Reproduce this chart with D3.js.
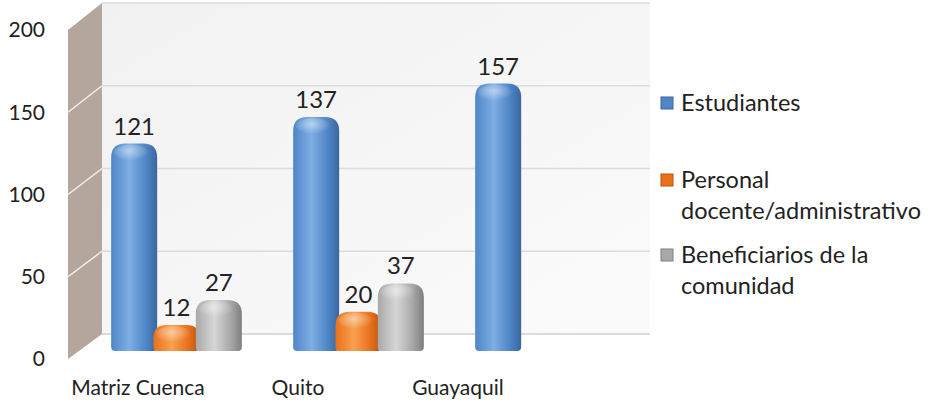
<!DOCTYPE html>
<html>
<head>
<meta charset="utf-8">
<script src="https://cdn.jsdelivr.net/npm/d3@7"></script>
<style>
  html, body { margin: 0; padding: 0; background: #fff; }
  svg { display: block; font-family: Lato, "Open Sans", sans-serif; }
</style>
</head>
<body>
<div id="chart"></div>
<script>
    // data
    var categories = ['Matriz Cuenca', 'Quito', 'Guayaquil'];
    var seriesNames = ['Estudiantes', 'Personal docente/administrativo', 'Beneficiarios de la comunidad'];
    var estudiantes = [121, 137, 157];
    var personal = [12, 20, null];
    var beneficiarios = [27, 37, null];
    var yTicks = [0, 50, 100, 150, 200];
    var legendLines = [['Estudiantes'], ['Personal', 'docente/administrativo'], ['Beneficiarios de la', 'comunidad']];

    var series = [estudiantes, personal, beneficiarios];
    var colors = [
        {base: '#4f86c6', light: '#7eaee4', dark: '#3a66a0'},
        {base: '#e9711c', light: '#f9a050', dark: '#b85410'},
        {base: '#a9a9a9', light: '#d6d6d6', dark: '#7e7e7e'}
    ];

    var width = 932, height = 410;
    var depth = {dx: 34, dy: -25};
    var wall = {left: 68, right: 616};

    var svg = d3.select('#chart').append('svg')
        .attr('width', width)
        .attr('height', height);

    // front edge scale (axis labels, side wall) and back wall scale
    var yFront = d3.scaleLinear().domain([0, 200]).range([359, 30]);
    var yBack = d3.scaleLinear().domain([0, 200]).range([359 + depth.dy, 30 + depth.dy - 2]);
    // bars stand half way into the floor
    var yBar = d3.scaleLinear().domain([0, 200]).range([349, 16]);

    var xBars = d3.scaleBand().domain(categories).range([99, 645]).paddingInner(0).paddingOuter(0);
    var xLabels = d3.scaleBand().domain(categories).range([58, 538]);
    var xSeries = d3.scaleBand().domain(d3.range(3)).range([14, 141]);

    var defs = svg.append('defs');

    var wallGrad = defs.append('linearGradient')
        .attr('id', 'wallGrad')
        .attr('x1', 0).attr('y1', 0).attr('x2', 1).attr('y2', 1);
    wallGrad.append('stop').attr('offset', '0%').attr('stop-color', '#f1f1f1');
    wallGrad.append('stop').attr('offset', '100%').attr('stop-color', '#fbfbfb');

    colors.forEach(function (c, i) {
        var g = defs.append('linearGradient')
            .attr('id', 'barGrad' + i)
            .attr('x1', 0).attr('y1', 0).attr('x2', 1).attr('y2', 0);
        g.append('stop').attr('offset', '0%').attr('stop-color', c.base);
        g.append('stop').attr('offset', '40%').attr('stop-color', c.light);
        g.append('stop').attr('offset', '75%').attr('stop-color', c.base);
        g.append('stop').attr('offset', '100%').attr('stop-color', c.dark);

        var h = defs.append('radialGradient')
            .attr('id', 'capGrad' + i)
            .attr('cx', 0.45).attr('cy', 0.4).attr('r', 0.6);
        h.append('stop').attr('offset', '0%').attr('stop-color', '#ffffff').attr('stop-opacity', 0.45);
        h.append('stop').attr('offset', '100%').attr('stop-color', '#ffffff').attr('stop-opacity', 0);
    });

    // back wall
    var backLeft = wall.left + depth.dx,
        backRight = wall.right + depth.dx;
    svg.append('rect')
        .attr('x', backLeft)
        .attr('y', yBack(200))
        .attr('width', backRight - backLeft)
        .attr('height', yBack(0) - yBack(200))
        .attr('fill', 'url(#wallGrad)');

    svg.append('g').selectAll('line')
        .data(yTicks)
        .join('line')
        .attr('x1', backLeft)
        .attr('x2', backRight)
        .attr('y1', function (d) { return yBack(d); })
        .attr('y2', function (d) { return yBack(d); })
        .attr('stroke', function (d) { return d === 0 ? '#d0d0d0' : '#dcdcdc'; })
        .attr('stroke-width', 1.5);

    // side wall
    svg.append('path')
        .attr('d', 'M' + wall.left + ',' + yFront(0) +
            'L' + wall.left + ',' + yFront(200) +
            'L' + backLeft + ',' + yBack(200) +
            'L' + backLeft + ',' + yBack(0) + 'Z')
        .attr('fill', '#b4a69c');

    svg.append('g').selectAll('line')
        .data(yTicks.slice(1, 4))
        .join('line')
        .attr('x1', wall.left)
        .attr('x2', backLeft)
        .attr('y1', function (d) { return yFront(d); })
        .attr('y2', function (d) { return yBack(d); })
        .attr('stroke', '#f4f0ec')
        .attr('stroke-width', 1.5);

    // y axis labels
    svg.append('g').selectAll('text')
        .data(yTicks)
        .join('text')
        .attr('x', 45)
        .attr('y', function (d) { return yFront(d); })
        .attr('dy', '0.35em')
        .attr('text-anchor', 'end')
        .attr('font-size', 21)
        .attr('fill', '#222')
        .text(function (d) { return d; });

    // category labels
    svg.append('g').selectAll('text')
        .data(categories)
        .join('text')
        .attr('x', function (d) { return xLabels(d) + xLabels.bandwidth() / 2; })
        .attr('y', 395)
        .attr('text-anchor', 'middle')
        .attr('font-size', 21)
        .attr('fill', '#222')
        .text(function (d) { return d; });

    // bars
    function barPath(x, w, top, bottom) {
        var r = Math.min(14, (bottom - top) / 2),
            rb = 4;
        return 'M' + x + ',' + (bottom - rb) +
            'L' + x + ',' + (top + r) +
            'Q' + x + ',' + top + ' ' + (x + r) + ',' + top +
            'L' + (x + w - r) + ',' + top +
            'Q' + (x + w) + ',' + top + ' ' + (x + w) + ',' + (top + r) +
            'L' + (x + w) + ',' + (bottom - rb) +
            'Q' + (x + w) + ',' + bottom + ' ' + (x + w - rb) + ',' + bottom +
            'L' + (x + rb) + ',' + bottom +
            'Q' + x + ',' + bottom + ' ' + x + ',' + (bottom - rb) + 'Z';
    }

    var barItems = [];
    series.forEach(function (values, si) {
        values.forEach(function (v, ci) {
            if (v !== null) {
                barItems.push({series: si, category: categories[ci], value: v});
            }
        });
    });

    var barW = 46;
    var bars = svg.append('g').selectAll('g')
        .data(barItems)
        .join('g');

    bars.append('path')
        .attr('d', function (d) {
            var x = xBars(d.category) + xSeries(d.series) + (xSeries.bandwidth() - barW) / 2;
            return barPath(x, barW, yBar(d.value) - 4, yBar(0) + 2);
        })
        .attr('fill', function (d) { return 'url(#barGrad' + d.series + ')'; });

    bars.append('ellipse')
        .attr('cx', function (d) { return xBars(d.category) + xSeries(d.series) + xSeries.bandwidth() / 2 - 3; })
        .attr('cy', function (d) { return yBar(d.value) + 5; })
        .attr('rx', 17)
        .attr('ry', 8)
        .attr('fill', function (d) { return 'url(#capGrad' + d.series + ')'; });

    bars.append('text')
        .attr('x', function (d) { return xBars(d.category) + xSeries(d.series) + xSeries.bandwidth() / 2; })
        .attr('y', function (d) { return yBar(d.value) - 13; })
        .attr('text-anchor', 'middle')
        .attr('font-size', 24)
        .attr('fill', '#222')
        .text(function (d) { return d.value; });

    // legend
    var legendY = [103, 180, 255];
    var legend = svg.append('g').selectAll('g')
        .data(seriesNames)
        .join('g')
        .attr('transform', function (d, i) { return 'translate(661,' + legendY[i] + ')'; });

    legend.append('rect')
        .attr('x', 0).attr('y', -6)
        .attr('width', 12).attr('height', 12)
        .attr('fill', function (d, i) { return colors[i].base; })
        .attr('stroke', function (d, i) { return colors[i].dark; })
        .attr('stroke-width', 1);

    legend.append('text')
        .attr('x', 20)
        .attr('y', 0)
        .attr('font-size', 23.5)
        .attr('fill', '#222')
        .selectAll('tspan')
        .data(function (d, i) { return legendLines[i]; })
        .join('tspan')
        .attr('x', 20)
        .attr('dy', function (d, i) { return i === 0 ? '0.35em' : '1.33em'; })
        .text(function (d) { return d; });
</script>
</body>
</html>
